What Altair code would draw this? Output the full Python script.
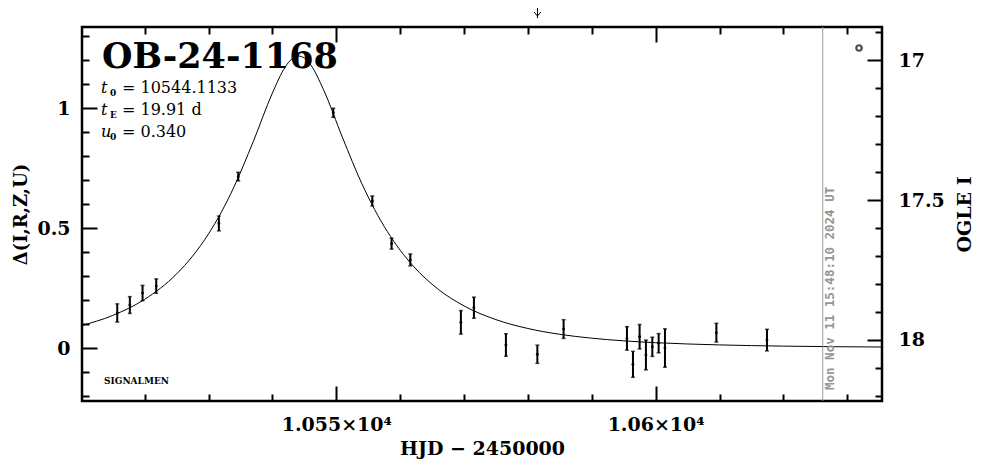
import altair as alt
import pandas as pd

# ---------------- data ----------------
hjd = [10515.71, 10517.68, 10519.67, 10521.81, 10531.62, 10534.65, 10549.53,
       10555.64, 10558.66, 10561.59, 10569.51, 10571.55, 10576.56, 10581.48,
       10585.59, 10595.51, 10596.45, 10597.49, 10598.48, 10599.48, 10600.47,
       10601.46, 10609.51, 10617.43]
delta = [0.146, 0.179, 0.229, 0.258, 0.519, 0.714, 0.980,
         0.6125, 0.435, 0.367, 0.107, 0.168, 0.0125, -0.026,
         0.079, 0.040, -0.068, 0.047, -0.029, 0.005, 0.020,
         0.000, 0.064, 0.033]
delta_err = [0.038, 0.035, 0.032, 0.030, 0.031, 0.018, 0.019,
             0.021, 0.023, 0.025, 0.049, 0.044, 0.047, 0.038,
             0.039, 0.049, 0.054, 0.051, 0.062, 0.040, 0.040,
             0.080, 0.039, 0.045]

model_hjd = [10510, 10515, 10520, 10525, 10527.5, 10530, 10532, 10534, 10537,
             10540, 10542, 10543, 10544, 10545, 10546, 10548, 10551, 10554,
             10556, 10558, 10560, 10562, 10566, 10570, 10575, 10580, 10585,
             10590, 10595, 10600, 10610, 10620, 10636]
model_delta = [0.0926, 0.1357, 0.2028, 0.3087, 0.3828, 0.4756, 0.5658, 0.6719,
               0.8600, 1.0623, 1.1707, 1.2035, 1.2167, 1.2084, 1.1797, 1.0765,
               0.8753, 0.6850, 0.5770, 0.4851, 0.4076, 0.3429, 0.2440, 0.1754,
               0.1182, 0.0813, 0.0570, 0.0409, 0.0298, 0.0222, 0.0129, 0.0079,
               0.0040]

ogle_major = [17, 17.5, 18]
ogle_minor = [16.9, 17.1, 17.2, 17.3, 17.4, 17.6, 17.7, 17.8, 17.9, 18.1, 18.2]
delta_major = [0, 0.5, 1]
delta_minor = [-0.2, -0.1, 0.1, 0.2, 0.3, 0.4, 0.6, 0.7, 0.8, 0.9, 1.1, 1.2, 1.3]
hjd_major = [10550, 10600]
hjd_minor = [10520, 10530, 10540, 10560, 10570, 10580, 10590, 10610, 10620, 10630]

event_name = "OB-24-1168"
param_names = ["t", "t", "u"]
param_subs = ["0", "E", "0"]
param_values = ["= 10544.1133", "= 19.91 d", "= 0.340"]
t_now = 10626.16
t_arrow = 10581.5
now_label = "Mon Nov 11 15:48:10 2024 UT"

X_DOMAIN = [10510.19, 10635.44]
Y_DOMAIN = [-0.2208, 1.3375]
I_DOMAIN = [16.882, 18.218]

SERIF = "DejaVu Serif"

pts = pd.DataFrame({"t": hjd, "d": delta, "e": delta_err})
pts["lo"] = pts["d"] - pts["e"]
pts["hi"] = pts["d"] + pts["e"]
model = pd.DataFrame({"t": model_hjd, "d": model_delta})

xs = alt.Scale(domain=X_DOMAIN, nice=False, zero=False)
ys = alt.Scale(domain=Y_DOMAIN, nice=False, zero=False)
iscale = alt.Scale(domain=I_DOMAIN, nice=False, zero=False, reverse=True)


def axis(orient, values, size, **kw):
    return alt.Axis(orient=orient, values=values, tickSize=size, offset=-size,
                    domain=False, grid=False, ticks=True, tickColor="black",
                    tickWidth=2, **kw)


label_kw = dict(labels=True, labelFont=SERIF, labelFontWeight="bold",
                labelFontSize=19, labelColor="black")
title_kw = dict(titleFont=SERIF, titleFontWeight="bold", titleFontSize=19,
                titleColor="black")

curve = alt.Chart(model).mark_line(color="black", strokeWidth=1, clip=True,
                                   interpolate="monotone").encode(
    x=alt.X("t:Q", scale=xs,
            axis=axis("bottom", hjd_major, 15, labelPadding=14,
                      labelExpr="format(datum.value/10000, '.4~f') + '×10⁴'",
                      title="HJD − 2450000", titlePadding=5,
                      **label_kw, **title_kw)),
    y=alt.Y("d:Q", scale=ys,
            axis=axis("left", delta_major, 15, labelPadding=12, format="~g",
                      title="Δ(I,R,Z,U)", titlePadding=6,
                      **label_kw, **dict(title_kw, titleFontSize=18))),
)

bars = alt.Chart(pts).mark_rule(color="black", strokeWidth=2).encode(
    x=alt.X("t:Q", scale=xs, title=None,
            axis=axis("bottom", hjd_minor, 7, labels=False)),
    y=alt.Y("lo:Q", scale=ys, title=None,
            axis=axis("left", delta_minor, 7, labels=False)),
    y2="hi:Q",
)

caps_lo = alt.Chart(pts).mark_tick(color="black", orient="horizontal",
                                   size=4, thickness=1.5).encode(
    x=alt.X("t:Q", scale=xs, title=None,
            axis=axis("top", hjd_major, 15, labels=False)),
    y=alt.Y("lo:Q", scale=ys, axis=None),
)
caps_hi = alt.Chart(pts).mark_tick(color="black", orient="horizontal",
                                   size=4, thickness=1.5).encode(
    x=alt.X("t:Q", scale=xs, title=None,
            axis=axis("top", hjd_minor, 7, labels=False)),
    y=alt.Y("hi:Q", scale=ys, axis=None),
)
dots = alt.Chart(pts).mark_point(color="black", filled=True, size=8,
                                 opacity=1).encode(
    x=alt.X("t:Q", scale=xs, axis=None),
    y=alt.Y("d:Q", scale=ys, axis=None),
)

ogle_df = pd.DataFrame({"I": ogle_major})
right_major = alt.Chart(ogle_df).mark_point(opacity=0).encode(
    y=alt.Y("I:Q", scale=iscale,
            axis=axis("right", ogle_major, 15, labelPadding=16, format="~g",
                      title="OGLE I", titleAngle=270, titlePadding=30,
                      **label_kw, **title_kw)),
)
right_minor = alt.Chart(ogle_df).mark_point(opacity=0).encode(
    y=alt.Y("I:Q", scale=iscale, title=None,
            axis=axis("right", ogle_minor, 7, labels=False)),
)

one = pd.DataFrame({"k": [0]})
now_line = alt.Chart(one).mark_rule(color="#9a9a9a", strokeWidth=1).encode(
    x=alt.X(datum=t_now, type="quantitative", scale=xs, axis=None),
)
now_text = alt.Chart(pd.DataFrame({"label": [now_label]})).mark_text(
    angle=270, align="left", baseline="middle", font="DejaVu Sans Mono",
    fontWeight="bold", fontSize=12.5, color="#959595", dy=7,
).encode(
    x=alt.X(datum=t_now, type="quantitative", scale=xs, axis=None),
    y=alt.value(363),
    text="label:N",
)
arrow_line = alt.Chart(one).mark_rule(color="black", strokeWidth=1).encode(
    x=alt.X(datum=t_arrow, type="quantitative", scale=xs, axis=None),
    y=alt.value(-20), y2=alt.value(-9),
)
arrow_head = alt.Chart(one).mark_point(
    shape="M-1,-1.2L0,0L1,-1.2", filled=False, size=45, strokeWidth=1,
    color="black", opacity=1,
).encode(
    x=alt.X(datum=t_arrow, type="quantitative", scale=xs, axis=None),
    y=alt.value(-11),
)


def txt(text, x, y, size, weight="normal", style="normal", font=SERIF):
    return alt.Chart(pd.DataFrame({"label": [text]})).mark_text(
        align="left", baseline="alphabetic", fontSize=size, fontWeight=weight,
        fontStyle=style, font=font, color="black",
    ).encode(x=alt.value(x), y=alt.value(y), text="label:N")


texts = [txt(event_name, 20, 41, 35, weight="bold"),
         txt("SIGNALMEN", 22, 357, 9, weight="bold")]
for i, (nm, sb, val) in enumerate(zip(param_names, param_subs, param_values)):
    base = 66 + 22 * i
    texts.append(txt(nm, 19, base, 16, style="italic"))
    texts.append(txt(sb, 28, base + 3, 9, weight="bold"))
    texts.append(txt(val, 40, base, 16))

legend_o = alt.Chart(one).mark_point(shape="circle", filled=False, size=30,
                                     strokeWidth=2.2, color="black").encode(
    x=alt.value(777), y=alt.value(21))

chart = alt.layer(
    curve, bars, caps_lo, caps_hi, dots, right_major, right_minor,
    now_line, now_text, arrow_line, arrow_head, legend_o, *texts,
).resolve_scale(x="independent", y="independent").resolve_axis(
    x="independent", y="independent"
).properties(
    width=800, height=374,
    autosize=alt.AutoSizeParams(type="none"),
    padding={"left": 74, "top": 19, "right": 96, "bottom": 58},
    background="white",
).configure_view(stroke="black", strokeWidth=2.5)

chart.save("out.html", embed_options={"renderer": "svg", "actions": False})
